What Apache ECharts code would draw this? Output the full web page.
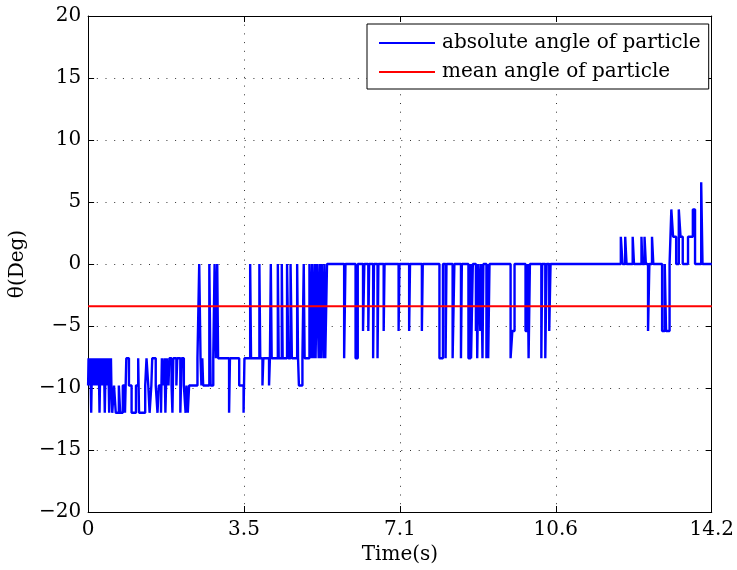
<!DOCTYPE html>
<html>
<head>
<meta charset="utf-8">
<script src="https://cdn.jsdelivr.net/npm/echarts@6/dist/echarts.min.js"></script>
<style>
html,body{margin:0;padding:0;background:#fff;}
#c{width:737px;height:570px;}
</style>
</head>
<body>
<div id="c"></div>
<script>
// Step times (s) where the absolute angle changes, and the held value (deg)
const times = [
  0, 0.01, 0.02, 0.03, 0.04, 0.05, 0.07, 0.08, 0.09, 0.10, 0.11, 0.12, 0.13, 0.14, 0.15, 0.16,
  0.17, 0.18, 0.19, 0.20, 0.21, 0.22, 0.24, 0.26, 0.27, 0.28, 0.29, 0.30, 0.31, 0.32, 0.33, 0.34,
  0.35, 0.36, 0.38, 0.39, 0.40, 0.41, 0.42, 0.43, 0.44, 0.45, 0.46, 0.48, 0.49, 0.50, 0.51, 0.52,
  0.53, 0.55, 0.59, 0.63, 0.70, 0.73, 0.79, 0.84, 0.87, 0.93, 0.99,
  1.09, 1.14, 1.16, 1.30, 1.33, 1.37, 1.40, 1.44, 1.46, 1.54, 1.58, 1.61, 1.66, 1.68, 1.72, 1.74,
  1.76, 1.79, 1.83, 1.85, 1.90, 1.92, 1.94, 2.01, 2.03, 2.10, 2.13, 2.18, 2.22, 2.24, 2.27, 2.30,
  2.49, 2.53, 2.56, 2.58, 2.60, 2.62, 2.76, 2.79, 2.85, 2.88, 2.91, 2.94, 2.96, 3.21, 3.23, 3.44,
  3.54, 3.56, 3.69, 3.71, 3.90, 3.92, 3.97, 3.99, 4.12, 4.14, 4.16, 4.18, 4.32, 4.34, 4.41, 4.43,
  4.53, 4.56, 4.61, 4.64, 4.76, 4.78, 4.80, 4.88, 4.91, 4.93, 5.04, 5.08, 5.10, 5.13, 5.16, 5.18,
  5.21, 5.25, 5.27, 5.30, 5.32, 5.36, 5.38, 5.40, 5.44, 5.83, 5.86, 6.09, 6.14, 6.26, 6.29, 6.38,
  6.40, 6.49, 6.51, 6.59, 6.61, 6.73, 6.75, 7.07, 7.09, 7.31, 7.33, 7.60, 7.62, 8.00, 8.08, 8.14,
  8.16, 8.30, 8.34, 8.49, 8.51, 8.66, 8.71, 8.72, 8.76, 8.83, 8.85, 8.86, 8.89, 8.93, 8.95, 8.98,
  9.00, 9.07, 9.09, 9.11, 9.14, 9.62, 9.66, 9.71, 9.96, 10.01, 10.03, 10.06, 10.32, 10.34, 10.41, 10.44,
  10.50, 10.53, 12.13, 12.17, 12.23, 12.26, 12.40, 12.43, 12.60, 12.62, 12.67, 12.70, 12.75, 12.78, 12.84, 12.87,
  13.07, 13.13, 13.16, 13.24, 13.28, 13.32, 13.39, 13.45, 13.49, 13.54, 13.66, 13.77, 13.82, 13.96, 13.99, 14.2
];
const angles = [
  -9.8, -7.6, -9.8, -7.6, -9.8, -7.6, -12, -9.8, -7.6, -9.8, -7.6, -9.8, -7.6, -9.8, -7.6, -9.8,
  -7.6, -9.8, -7.6, -9.8, -7.6, -9.8, -7.6, -12, -9.8, -7.6, -9.8, -7.6, -9.8, -7.6, -9.8, -7.6,
  -9.8, -7.6, -12, -9.8, -7.6, -9.8, -7.6, -9.8, -7.6, -9.8, -7.6, -12, -9.8, -7.6, -9.8, -7.6,
  -9.8, -12, -9.8, -12, -9.8, -12, -9.8, -12, -7.6, -9.8, -12,
  -9.8, -7.6, -12, -9.8, -7.6, -9.8, -12, -9.8, -7.6, -9.8, -12, -9.8, -12, -7.6, -9.8, -7.6,
  -12, -7.6, -9.8, -7.6, -9.8, -12, -7.6, -9.8, -7.6, -12, -7.6, -9.8, -12, -9.8, -12, -9.8,
  -7.6, 0, -7.6, -9.8, -7.6, -9.8, 0, -9.8, -7.6, 0, -7.6, 0, -7.6, -12, -7.6, -9.8,
  -12, -7.6, 0, -7.6, 0, -7.6, -9.8, -7.6, -9.8, -7.6, 0, -7.6, 0, -7.6, 0, -7.6,
  0, -7.6, 0, -7.6, 0, -7.6, -9.8, -7.6, 0, -7.6, 0, -7.6, 0, -7.6, 0, -7.6,
  0, -7.6, 0, -7.6, 0, -7.6, 0, -7.6, 0, -7.6, 0, -7.6, 0, -5.4, 0, -5.4,
  0, -7.6, 0, -7.6, 0, -5.4, 0, -5.4, 0, -5.4, 0, -5.4, 0, -7.6, 0, -7.6,
  0, -7.6, 0, -7.6, 0, -7.6, 0, -7.6, 0, -5.4, 0, -7.6, 0, -5.4, 0, -7.6,
  0, -7.6, 0, -7.6, 0, -7.6, -5.4, 0, -5.4, 0, -7.6, 0, -7.6, 0, -7.6, 0,
  -5.4, 0, 2.2, 0, 2.2, 0, 2.2, 0, 2.2, 0, 2.2, 0, -5.4, 0, 2.2, 0,
  -5.4, 0, -5.4, 0, 4.4, 2.2, 0, 4.4, 2.2, 0, 2.2, 4.4, 0, 6.6, 0, 0
];
const meanAngle = -3.4;
const xTickLabels = ['0', '3.5', '7.1', '10.6', '14.2'];
const yTicks = [-20, -15, -10, -5, 0, 5, 10, 15, 20];

const FONT = 'DejaVu Serif';
const absData = times.map((t, i) => [t, angles[i]]);
const meanData = [[0, meanAngle], [14.2, meanAngle]];

const chart = echarts.init(document.getElementById('c'), null, {renderer: 'canvas'});
const xBase = {
  type: 'value', min: 0, max: 14.2, interval: 3.55,
  axisLine: {show: true, onZero: false, lineStyle: {color: '#000', width: 1}},
  axisTick: {show: true, inside: true, length: 6, lineStyle: {color: '#000'}}
};
const yBase = {
  type: 'value', min: yTicks[0], max: yTicks[yTicks.length - 1], interval: 5,
  axisLine: {show: true, onZero: false, lineStyle: {color: '#000', width: 1}},
  axisTick: {show: true, inside: true, length: 6, lineStyle: {color: '#000'}}
};
const gridLine = {show: true, lineStyle: {color: '#333', width: 1, type: [1, 7.7]}};

chart.setOption({
  animation: false,
  backgroundColor: '#fff',
  grid: {left: 86, right: 23, top: 16, bottom: 58},
  legend: {
    orient: 'vertical', left: 367, top: 24,
    backgroundColor: '#fff', borderColor: '#000', borderWidth: 1,
    padding: [9, 8, 7, 12], itemGap: 9, itemWidth: 56, itemHeight: 2,
    icon: 'rect',
    textStyle: {fontFamily: FONT, fontSize: 20, color: '#000', lineHeight: 20, padding: [0, 0, 0, 2]},
    data: ['absolute angle of particle', 'mean angle of particle']
  },
  xAxis: [
    Object.assign({}, xBase, {
      position: 'bottom',
      name: 'Time(s)', nameLocation: 'middle', nameGap: 28,
      nameTextStyle: {fontFamily: FONT, fontSize: 20, color: '#000'},
      axisLabel: {
        show: true, margin: 8, fontFamily: FONT, fontSize: 20, color: '#000',
        showMinLabel: true, showMaxLabel: true, hideOverlap: false,
        formatter: v => xTickLabels[Math.round(v / 3.55)] ?? ''
      },
      splitLine: gridLine
    }),
    Object.assign({}, xBase, {position: 'top', axisLabel: {show: false}, splitLine: {show: false}})
  ],
  yAxis: [
    Object.assign({}, yBase, {
      position: 'left',
      name: 'θ(Deg)', nameLocation: 'middle', nameGap: 56, nameRotate: 90,
      nameTextStyle: {fontFamily: FONT, fontSize: 20, color: '#000'},
      axisLabel: {
        show: true, margin: 7, fontFamily: FONT, fontSize: 20, color: '#000',
        showMinLabel: true, showMaxLabel: true, hideOverlap: false,
        formatter: v => String(v).replace('-', '\u2212')
      },
      splitLine: gridLine
    }),
    Object.assign({}, yBase, {position: 'right', axisLabel: {show: false}, splitLine: {show: false}})
  ],
  series: [
    {
      name: 'absolute angle of particle', type: 'line', step: 'end',
      data: absData, showSymbol: false, symbol: 'none',
      lineStyle: {color: '#0000ff', width: 2.4}, itemStyle: {color: '#0000ff'},
      z: 3
    },
    {
      name: 'mean angle of particle', type: 'line',
      data: meanData, showSymbol: false, symbol: 'none',
      lineStyle: {color: '#ff0000', width: 2}, itemStyle: {color: '#ff0000'},
      z: 4
    }
  ]
});
</script>
</body>
</html>
